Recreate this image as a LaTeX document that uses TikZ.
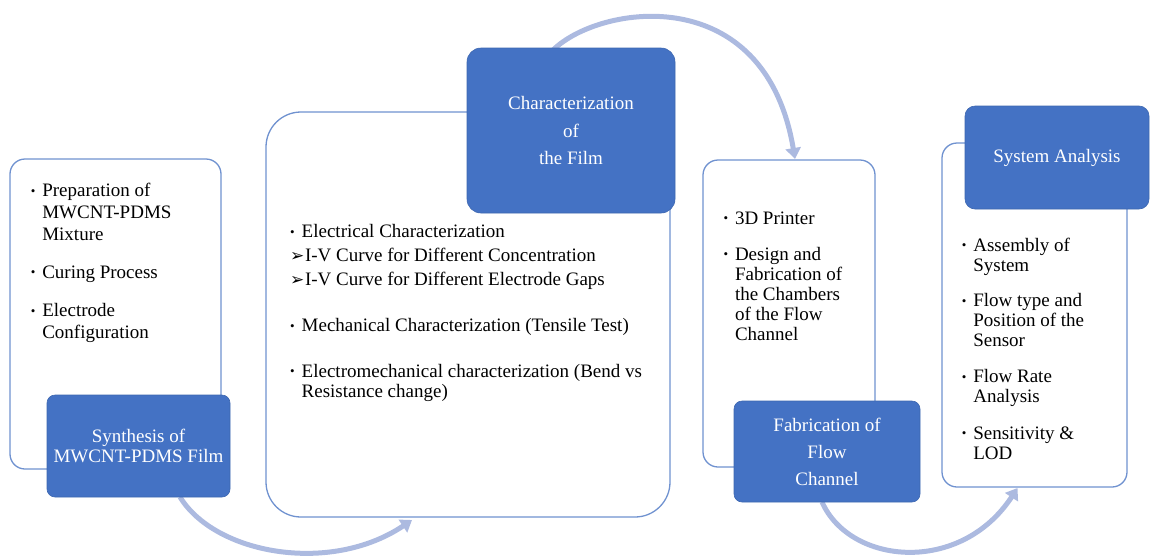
\documentclass[tikz,border=0pt]{standalone}
\usepackage{fontspec}
\setmainfont{Liberation Serif}
\newfontfamily\dejavu{DejaVu Sans}
\usetikzlibrary{arrows.meta,backgrounds}
\definecolor{bluefill}{RGB}{68,114,196}
\definecolor{outl}{RGB}{112,146,208}
\definecolor{arrc}{RGB}{172,186,224}
\newcommand\itm[1]{\makebox[11.5pt][l]{\raisebox{1.5pt}{\fontsize{13}{13}\selectfont •}}\begin{tabular}[t]{@{}l@{}}#1\end{tabular}}
\newcommand\arr{\makebox[15pt][l]{\dejavu\fontsize{17}{17}\selectfont ➢}}
\tikzset{
  obox/.style={draw=outl, line width=1.3pt, fill=white, inner sep=0pt, outer sep=0pt, anchor=north west},
  bbox/.style={draw=bluefill!90!black, line width=0.6pt, fill=bluefill, text=white, inner sep=0pt, outer sep=0pt, anchor=north west, align=center},
  itemtxt/.style={inner sep=0pt, outer sep=0pt, anchor=base west, font=\fontsize{19}{22}\selectfont},
  flow/.style={draw=arrc, line width=5pt, -{Triangle[width=15pt,length=11pt]}}
}
\begin{document}
\begin{tikzpicture}[x=1pt,y=-1pt]
\useasboundingbox (0,0) rectangle (1150,555);

% outline boxes
\node[obox, rounded corners=15pt, minimum width=211pt, minimum height=310pt] (o1) at (10,159) {};
\node[obox, rounded corners=35pt, minimum width=404pt, minimum height=405pt] (o2) at (266,112) {};
\node[obox, rounded corners=15pt, minimum width=172pt, minimum height=307pt] (o3) at (703,160) {};
\node[obox, rounded corners=15pt, minimum width=185pt, minimum height=344pt] (o4) at (942,143) {};

% blue title boxes
\node[bbox, rounded corners=8pt, minimum width=183pt, minimum height=102pt, font=\fontsize{19}{20}\selectfont] (b1) at (47,395) {Synthesis of\\MWCNT-PDMS Film};
\node[bbox, rounded corners=14pt, minimum width=208pt, minimum height=165pt, font=\fontsize{19}{27.5}\selectfont] (b2) at (467,48) {Characterization\\of\\the Film};
\node[bbox, rounded corners=8pt, minimum width=186pt, minimum height=101pt, font=\fontsize{19}{27}\selectfont] (b3) at (734,401) {Fabrication of\\Flow\\Channel};
\node[bbox, rounded corners=10pt, minimum width=184pt, minimum height=103pt, font=\fontsize{19}{22}\selectfont] (b4) at (965,106) {System Analysis};

% box 1 items
\node[itemtxt] (t1a) at (30.8,196.7) {\itm{Preparation of\\MWCNT-PDMS\\Mixture}};
\node[itemtxt] (t1b) at (30.8,278) {\itm{Curing Process}};
\node[itemtxt] (t1c) at (30.8,316.5) {\itm{Electrode\\Configuration}};

% box 2 items
\node[itemtxt] (t2a) at (290.2,237.7) {\itm{Electrical Characterization}};
\node[itemtxt] (t2b) at (290,261.7) {\arr I-V Curve for Different Concentration};
\node[itemtxt] (t2c) at (290,285) {\arr I-V Curve for Different Electrode Gaps};
\node[itemtxt] (t2d) at (290.2,331.7) {\itm{Mechanical Characterization (Tensile Test)}};
\node[itemtxt, font=\fontsize{19}{20}\selectfont] (t2e) at (290.2,377.3) {\itm{Electromechanical characterization (Bend vs\\Resistance change)}};

% box 3 items
\node[itemtxt, font=\fontsize{19}{20}\selectfont] (t3a) at (723.5,224) {\itm{3D Printer}};
\node[itemtxt, font=\fontsize{19}{20}\selectfont] (t3b) at (723.5,260) {\itm{Design and\\Fabrication of\\the Chambers\\of the Flow\\Channel}};

% box 4 items
\node[itemtxt, font=\fontsize{19}{20}\selectfont] (t4a) at (961.8,251) {\itm{Assembly of\\System}};
\node[itemtxt, font=\fontsize{19}{20}\selectfont] (t4b) at (961.8,306.7) {\itm{Flow type and\\Position of the\\Sensor}};
\node[itemtxt, font=\fontsize{19}{20}\selectfont] (t4c) at (961.8,382.7) {\itm{Flow Rate\\Analysis}};
\node[itemtxt, font=\fontsize{19}{20}\selectfont] (t4d) at (961.8,439.3) {\itm{Sensitivity \&\\LOD}};

% flow arrows
\begin{scope}[on background layer]
\draw[flow] ([xshift=41.5pt]b1.south) .. controls +(35,57) and +(-82,55) .. ([xshift=-56pt,yshift=-3pt]o2.south);
\draw[flow] ([xshift=-18pt,yshift=-2pt]b2.north) .. controls +(47,-46) and +(-30,-179) .. ([xshift=6pt,yshift=1pt]o3.north);
\draw[flow] ([xshift=-5pt]b3.south) .. controls +(28,63) and +(-57,87) .. ([xshift=-17pt,yshift=-1pt]o4.south);
\end{scope}
\end{tikzpicture}
\end{document}
